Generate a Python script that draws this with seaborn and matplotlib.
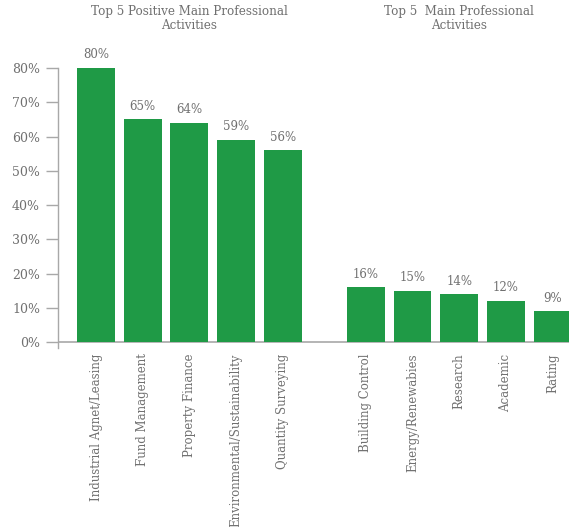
import matplotlib
matplotlib.use("Agg")
import matplotlib.pyplot as plt
import seaborn as sns
import pandas as pd

# Survey results: share of respondents per main professional activity (%)
left_labels = ["Industrial Agnet/Leasing", "Fund Management", "Property Finance",
               "Environmental/Sustainability", "Quantity Surveying"]
left_values = [80, 65, 64, 59, 56]
right_labels = ["Building Control", "Energy/Renewabies", "Research", "Academic", "Rating"]
right_values = [16, 15, 14, 12, 9]
left_title = "Top 5 Positive Main Professional\nActivities"
right_title = "Top 5  Main Professional\nActivities"
y_ticks = [0, 10, 20, 30, 40, 50, 60, 70, 80]

GREEN = "#1f9a46"
TEXT = "#707070"
AXIS = "#a8a8a8"
FONT = "DejaVu Serif"

sns.set_theme(style="white")
plt.rcParams["font.family"] = [FONT, "DejaVu Sans"]

# horizontal placement: two groups of five bars separated by a wider gap
group_gap = 5.78
positions = list(range(len(left_labels))) + [group_gap + i for i in range(len(right_labels))]
df = pd.DataFrame({
    "pos": positions,
    "value": left_values + right_values,
    "label": left_labels + right_labels,
})

fig = plt.figure(figsize=(5.69, 5.27), dpi=100)
W, H = 569, 527
ax_left, ax_right = 58, 569
ax_bottom, ax_top = 179, 459  # pixel rows from the bottom for -1.75% .. 80%
ax = fig.add_axes([ax_left / W, ax_bottom / H, (ax_right - ax_left) / W, (ax_top - ax_bottom) / H])

sns.barplot(data=df, x="pos", y="value", native_scale=True, color=GREEN,
            saturation=1, width=0.81, linewidth=0, ax=ax, zorder=2)

ax.set_xlim(-0.814, 10.13)
ax.set_ylim(-1.75, 80)

ax.set_yticks(y_ticks)
ax.set_yticklabels([f"{v}%" for v in y_ticks], color=TEXT, fontsize=9)
ax.tick_params(axis="y", direction="out", length=9, width=1, color=AXIS, pad=4, left=True)

ax.set_xticks(df["pos"])
ax.set_xticklabels(df["label"], rotation=90, color=TEXT, fontsize=8.5, va="top")
ax.tick_params(axis="x", length=0, pad=4)

ax.set_xlabel("")
ax.set_ylabel("")

for side in ["top", "right", "bottom"]:
    ax.spines[side].set_visible(False)
ax.spines["left"].set_color(AXIS)
ax.spines["left"].set_linewidth(1)

ax.axhline(0, color=AXIS, linewidth=1.2, zorder=1)

# value labels above the bars
for p, v in zip(df["pos"], df["value"]):
    ax.text(p, v + 1.9, f"{v}%", ha="center", va="bottom", color=TEXT,
            fontsize=8.5, clip_on=False)

# group titles
ax.text(2, 94.5, left_title, ha="center", va="center", color=TEXT,
        fontsize=8.6, linespacing=1.1, clip_on=False)
ax.text(group_gap + 2, 94.5, right_title, ha="center", va="center", color=TEXT,
        fontsize=8.6, linespacing=1.1, clip_on=False)

fig.savefig("out.png", dpi=100, facecolor="white")
